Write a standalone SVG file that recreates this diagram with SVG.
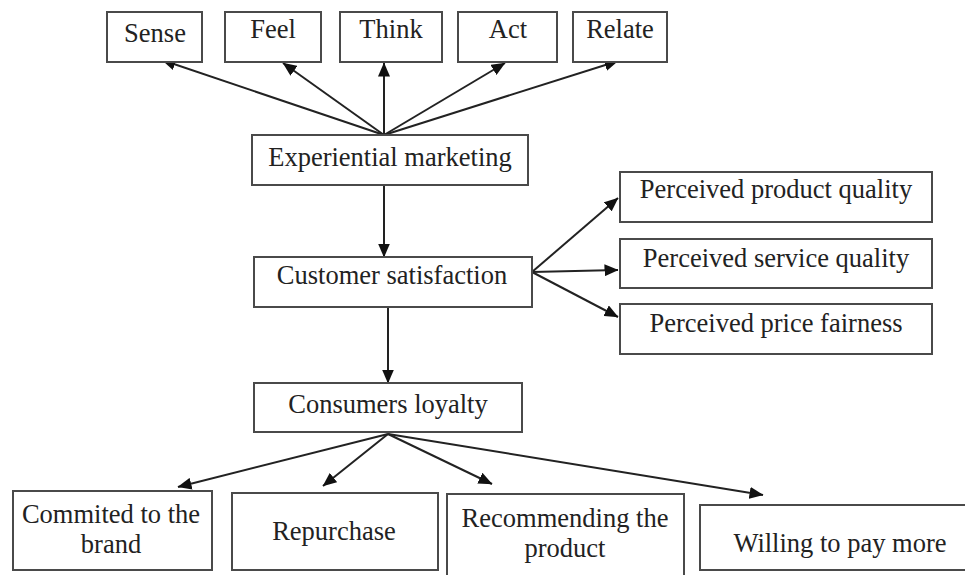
<svg xmlns="http://www.w3.org/2000/svg" width="965" height="575" viewBox="0 0 965 575">
<defs>
<style>
.box{fill:#fff;stroke:#4a4a4a;stroke-width:2}
.t{font-family:"Liberation Serif","Times New Roman",serif;font-size:26.5px;fill:#222;text-anchor:middle}
.c{stroke:#222;stroke-width:2;fill:none;marker-end:url(#ah)}
</style>
<marker id="ah" viewBox="0 0 14 12" markerWidth="14" markerHeight="12" refX="13.5" refY="6" orient="auto" markerUnits="userSpaceOnUse">
<path d="M0,0 L14,6 L0,12 z" fill="#111"/>
</marker>
</defs>
<rect width="965" height="575" fill="#fff"/>
<g id="connectors">
<line class="c" x1="384" y1="135" x2="162" y2="60"/>
<line class="c" x1="384" y1="135" x2="283" y2="63"/>
<line class="c" x1="384" y1="135" x2="384" y2="63"/>
<line class="c" x1="384" y1="135" x2="505" y2="63"/>
<line class="c" x1="384" y1="135" x2="618" y2="61"/>
<line class="c" x1="384" y1="185" x2="384" y2="257"/>
<line class="c" x1="532" y1="272" x2="618" y2="198"/>
<line class="c" x1="532" y1="272" x2="618" y2="270"/>
<line class="c" x1="532" y1="272" x2="618" y2="317"/>
<line class="c" x1="388" y1="307" x2="388" y2="383"/>
<line class="c" x1="388" y1="434" x2="178" y2="487"/>
<line class="c" x1="388" y1="434" x2="323" y2="486"/>
<line class="c" x1="388" y1="434" x2="492" y2="484"/>
<line class="c" x1="388" y1="434" x2="763" y2="495"/>
</g>
<g id="sense"><rect class="box" x="107" y="12" width="95" height="50"/><text class="t" x="155" y="42">Sense</text></g>
<g id="feel"><rect class="box" x="225" y="12" width="96" height="50"/><text class="t" x="273" y="38">Feel</text></g>
<g id="think"><rect class="box" x="340" y="12" width="102" height="50"/><text class="t" x="391" y="38">Think</text></g>
<g id="act"><rect class="box" x="458" y="12" width="99" height="50"/><text class="t" x="508" y="38">Act</text></g>
<g id="relate"><rect class="box" x="573" y="12" width="94" height="50"/><text class="t" x="620" y="38">Relate</text></g>
<g id="experiential"><rect class="box" x="252" y="135" width="276" height="50"/><text class="t" x="390" y="166">Experiential marketing</text></g>
<g id="satisfaction"><rect class="box" x="254" y="257" width="278" height="50"/><text class="t" x="392" y="284">Customer satisfaction</text></g>
<g id="product-quality"><rect class="box" x="620" y="172" width="312" height="50"/><text class="t" x="776" y="198">Perceived product quality</text></g>
<g id="service-quality"><rect class="box" x="620" y="239" width="312" height="49"/><text class="t" x="776" y="267">Perceived service quality</text></g>
<g id="price-fairness"><rect class="box" x="620" y="304" width="312" height="50"/><text class="t" x="776" y="332">Perceived price fairness</text></g>
<g id="loyalty"><rect class="box" x="254" y="383" width="268" height="49"/><text class="t" x="388" y="413">Consumers loyalty</text></g>
<g id="commited"><rect class="box" x="13" y="491" width="199" height="79"/><text class="t" x="111" y="523">Commited to the</text><text class="t" x="111" y="553">brand</text></g>
<g id="repurchase"><rect class="box" x="232" y="493" width="206" height="77"/><text class="t" x="334" y="540">Repurchase</text></g>
<g id="recommending"><rect class="box" x="447" y="494" width="237" height="90"/><text class="t" x="565" y="527">Recommending the</text><text class="t" x="565" y="557">product</text></g>
<g id="willing"><rect class="box" x="700" y="505" width="280" height="65"/><text class="t" x="840" y="552">Willing to pay more</text></g>
</svg>
